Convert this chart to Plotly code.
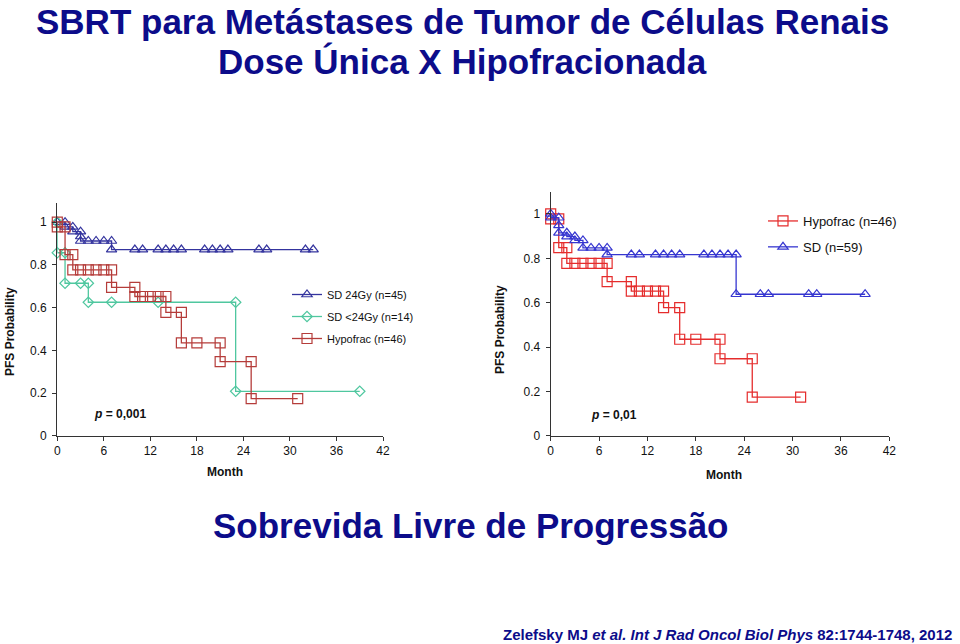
import plotly.graph_objects as go

# ---------------- data (Kaplan-Meier curves) ----------------
month_ticks = [0, 6, 12, 18, 24, 30, 36, 42]
prob_ticks = [0, 0.2, 0.4, 0.6, 0.8, 1]
prob_ticktext = ["0", "0.2", "0.4", "0.6", "0.8", "1"]

# Hypofrac (n=46) - same data in both panels
hypo_t = [0, 0, 1, 1, 2, 2, 3, 4, 5, 6, 7, 7, 10, 10, 11, 12, 13, 14, 14, 16, 16, 18, 21, 21, 25, 25, 31]
hypo_s = [1.0, 0.978, 0.978, 0.848, 0.848, 0.777, 0.777, 0.777, 0.777, 0.777, 0.777, 0.695, 0.695,
          0.652, 0.652, 0.652, 0.652, 0.652, 0.578, 0.578, 0.435, 0.435, 0.435, 0.347, 0.347, 0.174, 0.174]

# SD 24Gy (n=45) - left panel
sd24_t = [0, 1, 1, 2, 2, 3, 3, 3, 4, 5, 6, 7, 7, 10, 11, 13, 14, 15, 16, 19, 20, 21, 22, 26, 27, 32, 33]
sd24_s = [1.0, 1.0, 0.978, 0.978, 0.956, 0.956, 0.933, 0.912, 0.912, 0.912, 0.912, 0.912,
          0.872, 0.872, 0.872, 0.872, 0.872, 0.872, 0.872, 0.872, 0.872, 0.872, 0.872, 0.872, 0.872, 0.872, 0.872]

# SD <24Gy (n=14) - left panel
sdlt_t = [0, 0, 1, 1, 3, 4, 4, 7, 13, 23, 23, 39]
sdlt_s = [1.0, 0.857, 0.857, 0.714, 0.714, 0.714, 0.625, 0.625, 0.625, 0.625, 0.208, 0.208]

# SD (n=59) - right panel
sd_t = [0, 0, 1, 1, 1, 2, 2, 3, 3, 4, 4, 5, 6, 7, 7, 10, 11, 13, 14, 15, 16, 19, 20, 21, 22, 23, 23,
        26, 27, 32, 33, 39]
sd_s = [1.0, 0.983, 0.983, 0.949, 0.915, 0.915, 0.898, 0.898, 0.881, 0.881, 0.847, 0.847, 0.847, 0.847,
        0.817, 0.817, 0.817, 0.817, 0.817, 0.817, 0.817, 0.817, 0.817, 0.817, 0.817, 0.817, 0.638,
        0.638, 0.638, 0.638, 0.638, 0.638]

left_names = ["SD 24Gy (n=45)", "SD <24Gy (n=14)", "Hypofrac (n=46)"]
right_names = ["Hypofrac (n=46)", "SD (n=59)"]

# ---------------- figure ----------------
W, H = 960, 644
FONT = "Liberation Sans, Arial, sans-serif"
NAVY = "#0c0c8a"

fig = go.Figure()

def add(t, s, name, color, symbol, size, xa, ya, legend, group):
    fig.add_trace(go.Scatter(
        x=t, y=s, mode="lines+markers", name=name,
        line=dict(color=color, width=1.3),
        marker=dict(symbol=symbol, size=size, color=color, line=dict(color=color, width=1.2)),
        xaxis=xa, yaxis=ya, legend=legend, legendgroup=group, cliponaxis=False,
    ))

add(sd24_t, sd24_s, left_names[0], "#34349e", "triangle-up-open", 9, "x", "y", "legend", "a")
add(sdlt_t, sdlt_s, left_names[1], "#4fc79f", "diamond-open", 8, "x", "y", "legend", "b")
add(hypo_t, hypo_s, left_names[2], "#b53c3a", "square-open", 10, "x", "y", "legend", "c")

add(hypo_t, hypo_s, right_names[0], "#e52c2c", "square-open", 10, "x2", "y2", "legend2", "d")
add(sd_t, sd_s, right_names[1], "#3636d0", "triangle-up-open", 9, "x2", "y2", "legend2", "e")

axis_common = dict(showgrid=False, zeroline=False, showline=True, linecolor="#333",
                   linewidth=1.2, ticks="outside", ticklen=4, tickcolor="#333", automargin=False,
                   tickfont=dict(family=FONT, size=12, color="#111"))

fig.update_layout(
    width=W, height=H, margin=dict(l=0, r=0, t=0, b=0, autoexpand=False),
    paper_bgcolor="white", plot_bgcolor="white",
    xaxis=dict(domain=[57.3 / W, 383 / W], range=[0, 42], tickvals=month_ticks, anchor="y", **axis_common),
    yaxis=dict(domain=[1 - 435.7 / H, 1 - 203 / H], range=[0, 1.09], tickvals=prob_ticks,
               ticktext=prob_ticktext, anchor="x", ticklabelstandoff=3, **axis_common),
    xaxis2=dict(domain=[550.7 / W, 889.3 / W], range=[0, 42], tickvals=month_ticks, anchor="y2", **axis_common),
    yaxis2=dict(domain=[1 - 435.7 / H, 1 - 191.8 / H], range=[0, 1.1], tickvals=prob_ticks,
                ticktext=prob_ticktext, anchor="x2", ticklabelstandoff=3, **axis_common),
    legend=dict(x=287 / W, y=1 - 280 / H, xanchor="left", yanchor="top", bgcolor="rgba(0,0,0,0)",
                font=dict(family=FONT, size=11, color="#111"), traceorder="grouped", tracegroupgap=3,
                itemwidth=30),
    legend2=dict(x=763 / W, y=1 - 206 / H, xanchor="left", yanchor="top", bgcolor="rgba(0,0,0,0)",
                 font=dict(family=FONT, size=13, color="#111"), traceorder="grouped", tracegroupgap=6,
                 itemwidth=30),
    showlegend=True,
)

def ann(text, x, y, size, color="#111", angle=0, xanchor="center"):
    fig.add_annotation(text=text, x=x / W, y=1 - y / H, xref="paper", yref="paper",
                       showarrow=False, textangle=angle, xanchor=xanchor, yanchor="middle",
                       font=dict(family=FONT, size=size, color=color))

ann("<b>SBRT para Metástases de Tumor de Células Renais</b>", 462, 21, 35, NAVY)
ann("<b>Dose Única X Hipofracionada</b>", 462, 61, 35, NAVY)
ann("<b>Sobrevida Livre de Progressão</b>", 470, 525, 35, NAVY)
ann("<b>Zelefsky MJ <i>et al. Int J Rad Oncol Biol Phys</i> 82:1744-1748, 2012</b>", 954, 634, 15,
    NAVY, xanchor="right")

ann("<b>PFS Probability</b>", 10, 332, 12, angle=-90)
ann("<b>PFS Probability</b>", 500, 330, 12, angle=-90)
ann("<b>Month</b>", 225, 472, 12)
ann("<b>Month</b>", 724, 475, 12)
ann("<b><i>p</i> = 0,001</b>", 120, 414, 12)
ann("<b><i>p</i> = 0,01</b>", 614, 415, 12)

# remove the default 8px page margin so the figure sits at the window origin
fig.write_html("out.html", config={"displayModeBar": False},
               post_script="document.body.style.margin='0px';")
